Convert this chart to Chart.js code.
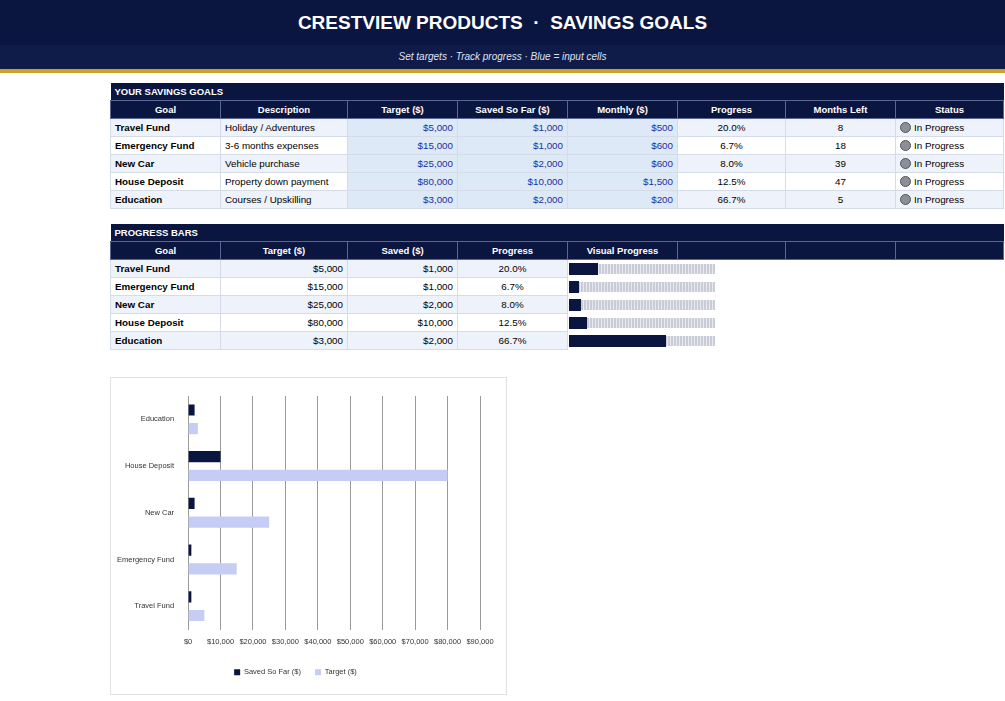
<!DOCTYPE html>
<html><head><meta charset="utf-8">
<script src="https://cdn.jsdelivr.net/npm/chart.js@4"></script>
<style>
body{margin:0;width:1005px;height:701px;background:#fff;font-family:"Liberation Sans",Arial,sans-serif;position:relative;overflow:hidden}
#hdr{position:absolute;left:0;top:0;width:1005px;height:45px;background:#0b1640;color:#fff;font-weight:bold;font-size:19px;text-align:center;line-height:45px}
#sub{position:absolute;left:0;top:45px;width:1005px;height:24px;background:#0f1c4a;color:#dfe4f2;font-style:italic;font-size:10px;text-align:center;line-height:24px}
#gold{position:absolute;left:0;top:69px;width:1005px;height:4px;background:#c9a227}
table{position:absolute;left:110px;border-collapse:collapse;font-size:9.8px;table-layout:fixed}
td,th{height:17px;padding:0 4px;border:1px solid #d6dbe8;white-space:nowrap;overflow:hidden}
.sec td{background:#0b1640;color:#fff;font-weight:bold;font-size:9.5px;border:none}
th{background:#0b1640;color:#fff;font-size:9.5px;border:1px solid #5a6694}
td.g{font-weight:bold}
tr.alt td{background:#eef2fb}
td.in{background:#dde9f7 !important;color:#1a2fa0;text-align:right}
td.r{text-align:right}td.c{text-align:center}
.dot{display:inline-block;width:9px;height:9px;border-radius:50%;background:#8a8f99;border:1px solid #555;vertical-align:-2px;margin-right:3px}
.pb{position:relative;height:12px;width:146px}
.pb .bg{position:absolute;left:0;top:1px;height:10px;width:146px;background:repeating-linear-gradient(90deg,#c8ccd6 0 2px,#e8eaf0 2px 3px)}
.pb .fg{position:absolute;left:0;top:0;height:12px;background:#0b1640}
#box{position:absolute;left:110px;top:377px;width:395px;height:316px;border:1px solid #e2e2e2}
</style></head><body>
<div id="hdr">CRESTVIEW PRODUCTS &nbsp;·&nbsp; SAVINGS GOALS</div>
<div id="sub">Set targets · Track progress · Blue = input cells</div>
<div id="gold"></div>
<table id="t1" style="top:83px"></table>
<table id="t2" style="top:224px"></table>
<div id="box"><canvas id="c" width="395" height="316"></canvas></div>
<script>
var goals = ['Travel Fund','Emergency Fund','New Car','House Deposit','Education'];
var descriptions = ['Holiday / Adventures','3-6 months expenses','Vehicle purchase','Property down payment','Courses / Upskilling'];
var targets = [5000,15000,25000,80000,3000];
var saved = [1000,1000,2000,10000,2000];
var monthly = [500,600,600,1500,200];
var monthsLeft = [8,18,39,47,5];
var xTicks = [0,10000,20000,30000,40000,50000,60000,70000,80000,90000];

var widths = [110,127,110,110,110,108,110,108];
function money(v){return '$'+v.toLocaleString('en-US');}
function pct(i){return (saved[i]/targets[i]*100).toFixed(1)+'%';}
function cols(){return '<colgroup>'+widths.map(w=>'<col style="width:'+w+'px">').join('')+'</colgroup>';}

var h = cols()+'<tr class="sec"><td colspan="8">YOUR SAVINGS GOALS</td></tr><tr>'+
  ['Goal','Description','Target ($)','Saved So Far ($)','Monthly ($)','Progress','Months Left','Status'].map(s=>'<th>'+s+'</th>').join('')+'</tr>';
goals.forEach(function(g,i){
  h += '<tr class="'+(i%2==0?'alt':'')+'"><td class="g">'+g+'</td><td>'+descriptions[i]+'</td><td class="in">'+money(targets[i])+
    '</td><td class="in">'+money(saved[i])+'</td><td class="in">'+money(monthly[i])+'</td><td class="c">'+pct(i)+
    '</td><td class="c">'+monthsLeft[i]+'</td><td><span class="dot"></span>In Progress</td></tr>';
});
document.getElementById('t1').innerHTML = h;

h = cols()+'<tr class="sec"><td colspan="8">PROGRESS BARS</td></tr><tr>'+
  ['Goal','Target ($)','Saved ($)','Progress','Visual Progress','','',''].map(s=>'<th>'+s+'</th>').join('')+'</tr>';
goals.forEach(function(g,i){
  var w = Math.max(6, Math.round(146*saved[i]/targets[i]));
  h += '<tr class="'+(i%2==0?'alt':'')+'"><td class="g">'+g+'</td><td class="r">'+money(targets[i])+'</td><td class="r">'+money(saved[i])+
    '</td><td class="c">'+pct(i)+'</td><td colspan="2" style="padding:0 1px;border:none;background:#fff"><div class="pb"><div class="bg"></div><div class="fg" style="width:'+w+'px"></div></div></td><td style="border:none;background:#fff"></td><td style="border:none;background:#fff"></td></tr>';
});
document.getElementById('t2').innerHTML = h;

new Chart(document.getElementById('c'), {
  type: 'bar',
  data: {
    labels: goals,
    datasets: [
      {label:'Saved So Far ($)', data: saved, backgroundColor:'#0b1640', barPercentage:0.6, categoryPercentage:0.8},
      {label:'Target ($)', data: targets, backgroundColor:'#c5cdf5', barPercentage:0.6, categoryPercentage:0.8}
    ]
  },
  options: {
    indexAxis:'y', responsive:false, animation:false,
    layout:{padding:{left:0,right:26,top:18,bottom:8}},
    scales: {
      x: {min:0,max:90000,afterBuildTicks:function(a){a.ticks=xTicks.map(v=>({value:v}));},
          ticks:{font:{size:7.5},color:'#333',maxRotation:0,autoSkip:false,padding:8,callback:function(v){return money(v);}},
          grid:{color:'#9a9a9a',drawTicks:false},border:{display:false}},
      y: {reverse:true,ticks:{font:{size:7.5},color:'#333',padding:6},grid:{display:false},border:{color:'#9a9a9a'}}
    },
    plugins: {
      legend:{position:'bottom',labels:{font:{size:7.5},color:'#333',boxWidth:6,boxHeight:6,padding:14}},
      tooltip:{enabled:false}
    }
  }
});
</script>
</body></html>
